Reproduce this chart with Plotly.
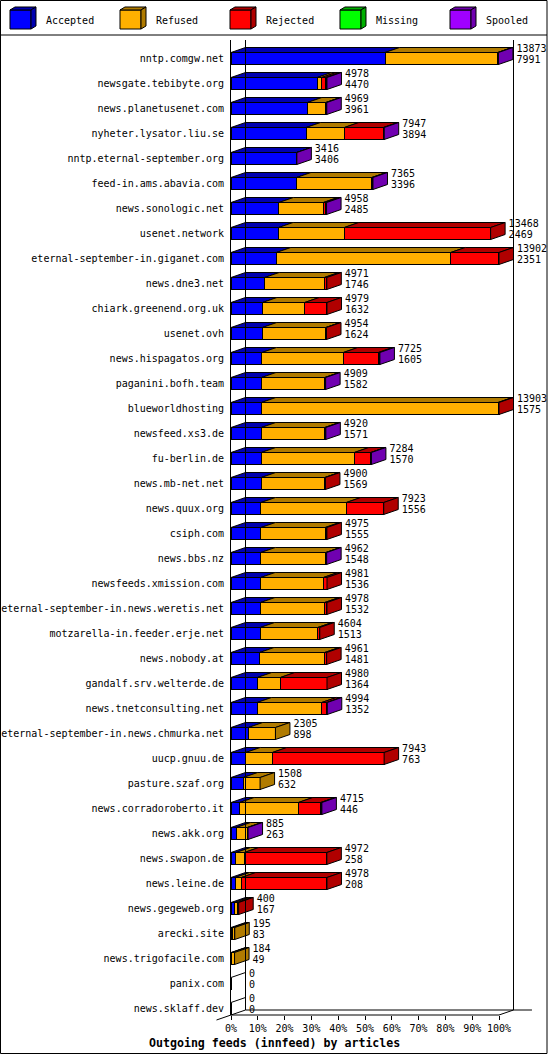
import plotly.graph_objects as go

hosts = [
    "nntp.comgw.net", "newsgate.tebibyte.org", "news.planetusenet.com",
    "nyheter.lysator.liu.se", "nntp.eternal-september.org", "feed-in.ams.abavia.com",
    "news.sonologic.net", "usenet.network", "eternal-september-in.giganet.com",
    "news.dne3.net", "chiark.greenend.org.uk", "usenet.ovh", "news.hispagatos.org",
    "paganini.bofh.team", "blueworldhosting", "newsfeed.xs3.de", "fu-berlin.de",
    "news.mb-net.net", "news.quux.org", "csiph.com", "news.bbs.nz",
    "newsfeeds.xmission.com", "eternal-september-in.news.weretis.net",
    "motzarella-in.feeder.erje.net", "news.nobody.at", "gandalf.srv.welterde.de",
    "news.tnetconsulting.net", "eternal-september-in.news.chmurka.net", "uucp.gnuu.de",
    "pasture.szaf.org", "news.corradoroberto.it", "news.akk.org", "news.swapon.de",
    "news.leine.de", "news.gegeweb.org", "arecki.site", "news.trigofacile.com",
    "panix.com", "news.sklaff.dev",
]
offered = [13873, 4978, 4969, 7947, 3416, 7365, 4958, 13468, 13902, 4971, 4979, 4954,
           7725, 4909, 13903, 4920, 7284, 4900, 7923, 4975, 4962, 4981, 4978, 4604,
           4961, 4980, 4994, 2305, 7943, 1508, 4715, 885, 4972, 4978, 400, 195, 184, 0, 0]
accepted = [7991, 4470, 3961, 3894, 3406, 3396, 2485, 2469, 2351, 1746, 1632, 1624,
            1605, 1582, 1575, 1571, 1570, 1569, 1556, 1555, 1548, 1536, 1532, 1513,
            1481, 1364, 1352, 898, 763, 632, 446, 263, 258, 208, 167, 83, 49, 0, 0]
refused = [5840, 225, 950, 1986, 0, 3903, 2305, 3409, 9047, 3095, 2191, 3288,
           4221, 3279, 12276, 3290, 4827, 3292, 4426, 3330, 3364, 3254, 3329, 2984,
           3380, 1194, 3353, 1407, 1380, 876, 3047, 583, 432, 326, 160, 112, 135, 0, 0]
rejected = [0, 207, 0, 2023, 0, 0, 122, 7590, 2504, 130, 1156, 42,
            1816, 0, 52, 0, 850, 39, 1941, 90, 0, 191, 117, 107,
            100, 2422, 259, 0, 5800, 0, 1159, 0, 4282, 4444, 73, 0, 0, 0, 0]
missing = [0, 0, 0, 0, 0, 0, 0, 0, 0, 0, 0, 0, 0, 0, 0, 0, 0, 0, 0, 0,
           0, 0, 0, 0, 0, 0, 0, 0, 0, 0, 0, 0, 0, 0, 0, 0, 0, 0, 0]
spooled = [42, 76, 58, 44, 10, 66, 46, 0, 0, 0, 0, 0, 83, 48, 0, 59, 37, 0, 0, 0,
           50, 0, 0, 0, 0, 0, 30, 0, 0, 0, 63, 39, 0, 0, 0, 0, 0, 0, 0]
x_ticks = [0, 10, 20, 30, 40, 50, 60, 70, 80, 90, 100]

# name, values, front colour, shaded colour (top / side faces)
series = [
    ("Accepted", accepted, "#0000ff", "#0000b0"),
    ("Refused", refused, "#ffb000", "#b07b00"),
    ("Rejected", rejected, "#ff0000", "#b00000"),
    ("Missing", missing, "#00ff00", "#00b000"),
    ("Spooled", spooled, "#a000ff", "#7000b0"),
]

W, H = 550, 1055
LEFT, RIGHT, TOP, BOTTOM = 231, 546, 40, 1015
PX_PER_PCT = 2.68
ROW_PX = 25
X_MAX = (RIGHT - LEFT) / PX_PER_PCT
Y_TOP = -0.74
Y_BOT = Y_TOP + (BOTTOM - TOP) / ROW_PX
DX = 14.5 / PX_PER_PCT   # 3d depth, in percent
DY = 5 / ROW_PX          # 3d depth, in rows
HALF = 0.24              # half bar thickness
GAP = 3.5 / PX_PER_PCT   # space between bar and its numbers
FONT = "DejaVu Sans Mono"

scale = 100 / max(offered)
rows = list(range(len(hosts)))


def px_x(px):
    return (px - LEFT) / (RIGHT - LEFT)


def px_y(py):
    return (BOTTOM - py) / (BOTTOM - TOP)


def dx_paper(v):
    return v / X_MAX


def dy_paper(v):
    return (Y_BOT - v) / (Y_BOT - Y_TOP)


fig = go.Figure()

for name, vals, front, dark in series:
    fig.add_trace(go.Bar(
        x=[v * scale for v in vals], y=rows, orientation="h", name=name,
        width=2 * HALF, marker=dict(color=front, line=dict(color="black", width=1)),
        hoverinfo="skip", showlegend=False,
    ))

# top and side faces
tops = {s[0]: ([], []) for s in series}
sides = {s[0]: ([], []) for s in series}
empty_x, empty_y = [], []
for i in rows:
    left = 0.0
    last = None
    for name, vals, front, dark in series:
        w = vals[i] * scale
        if w > 0:
            tx, ty = tops[name]
            tx += [left, left + w, left + w + DX, left + DX, left, None]
            ty += [i - HALF, i - HALF, i - HALF - DY, i - HALF - DY, i - HALF, None]
            left += w
            last = name
    if last is None:
        empty_x += [0, DX, None]
        empty_y += [i - HALF, i - HALF - DY, None]
    else:
        sx, sy = sides[last]
        sx += [left, left + DX, left + DX, left, left, None]
        sy += [i - HALF, i - HALF - DY, i + HALF - DY, i + HALF, i - HALF, None]

for name, vals, front, dark in series:
    for faces in (tops, sides):
        fx, fy = faces[name]
        if fx:
            fig.add_trace(go.Scatter(
                x=fx, y=fy, mode="lines", fill="toself", fillcolor=dark,
                line=dict(color="black", width=1), hoverinfo="skip", showlegend=False,
            ))

fig.add_trace(go.Scatter(
    x=empty_x, y=empty_y, mode="lines", line=dict(color="black", width=1),
    hoverinfo="skip", showlegend=False,
))

ends = [v * scale + DX + GAP for v in offered]
for texts, shift in ((offered, -0.36), (accepted, 0.08)):
    fig.add_trace(go.Scatter(
        x=ends, y=[i + shift for i in rows], mode="text", text=[str(v) for v in texts],
        textposition="middle right", textfont=dict(family=FONT, size=10, color="black"),
        cliponaxis=False, hoverinfo="skip", showlegend=False,
    ))

line = dict(color="black", width=1)
shapes = [
    # outer frame and legend separator
    dict(type="rect", xref="paper", yref="paper", x0=px_x(0.5), x1=px_x(547),
         y0=px_y(0.5), y1=px_y(1053.5), line=line),
    dict(type="line", xref="paper", yref="paper", x0=px_x(0), x1=px_x(547),
         y0=px_y(35), y1=px_y(35), line=line),
    # back walls and floor
    dict(type="line", xref="paper", yref="paper", x0=dx_paper(DX), x1=dx_paper(DX),
         y0=dy_paper(Y_TOP), y1=dy_paper(Y_BOT - DY), line=line),
    dict(type="line", xref="paper", yref="paper", x0=dx_paper(100 + DX), x1=dx_paper(100 + DX),
         y0=dy_paper(Y_TOP), y1=dy_paper(Y_BOT - DY), line=line),
    dict(type="line", xref="paper", yref="paper", x0=dx_paper(DX), x1=dx_paper(112.3),
         y0=dy_paper(Y_BOT - DY), y1=dy_paper(Y_BOT - DY), line=line),
    dict(type="line", xref="paper", yref="paper", x0=dx_paper(0), x1=dx_paper(100),
         y0=dy_paper(Y_BOT), y1=dy_paper(Y_BOT), line=line),
    dict(type="line", xref="paper", yref="paper", x0=dx_paper(-DX), x1=dx_paper(DX),
         y0=dy_paper(Y_BOT + DY), y1=dy_paper(Y_BOT - DY), line=line),
    dict(type="line", xref="paper", yref="paper", x0=dx_paper(100), x1=dx_paper(100 + DX),
         y0=dy_paper(Y_BOT), y1=dy_paper(Y_BOT - DY), line=line),
]

annotations = []
for k, (name, vals, front, dark) in enumerate(series):
    x0 = 10 + 110 * k
    x1 = x0 + 21
    y0, y1 = 10, 29
    d, e = 5, 3

    def p(pts):
        return "M " + " L ".join(f"{px_x(a):.5f},{px_y(b):.5f}" for a, b in pts) + " Z"

    shapes.append(dict(type="path", xref="paper", yref="paper",
                       path=p([(x0, y0), (x1, y0), (x1, y1), (x0, y1)]),
                       fillcolor=front, line=line))
    shapes.append(dict(type="path", xref="paper", yref="paper",
                       path=p([(x0, y0), (x1, y0), (x1 + d, y0 - e), (x0 + d, y0 - e)]),
                       fillcolor=dark, line=line))
    shapes.append(dict(type="path", xref="paper", yref="paper",
                       path=p([(x1, y0), (x1 + d, y0 - e), (x1 + d, y1 - e), (x1, y1)]),
                       fillcolor=dark, line=line))
    annotations.append(dict(xref="paper", yref="paper", x=px_x(x0 + 34), y=px_y(20),
                            text=name, showarrow=False, xanchor="left", yanchor="middle",
                            font=dict(family=FONT, size=10, color="black")))

annotations.append(dict(xref="paper", yref="paper", x=px_x(274), y=px_y(1043),
                        text="<b>Outgoing feeds (innfeed) by articles</b>", showarrow=False,
                        xanchor="center", yanchor="middle",
                        font=dict(family=FONT, size=11.6, color="black")))

fig.update_layout(
    width=W, height=H, barmode="stack", template="none",
    margin=dict(l=LEFT, r=W - RIGHT, t=TOP, b=H - BOTTOM, pad=0),
    paper_bgcolor="white", plot_bgcolor="white", showlegend=False,
    shapes=shapes, annotations=annotations,
    xaxis=dict(range=[0, X_MAX], tickvals=x_ticks, ticktext=[f"{t}%" for t in x_ticks],
               ticks="outside", ticklen=4, tickcolor="black", showgrid=False,
               zeroline=False, showline=False, automargin=False,
               tickfont=dict(family=FONT, size=10, color="black")),
    yaxis=dict(range=[Y_BOT, Y_TOP], tickvals=rows, ticktext=hosts, ticks="",
               showgrid=False, zeroline=False, showline=True, linecolor="black",
               linewidth=1, automargin=False, ticklabelstandoff=4,
               tickfont=dict(family=FONT, size=10, color="black")),
)

# drop the page's default body margin so the figure sits at the window's corner
fig.write_html("out.html", config={"displayModeBar": False},
               post_script="document.body.style.margin = '0';")
